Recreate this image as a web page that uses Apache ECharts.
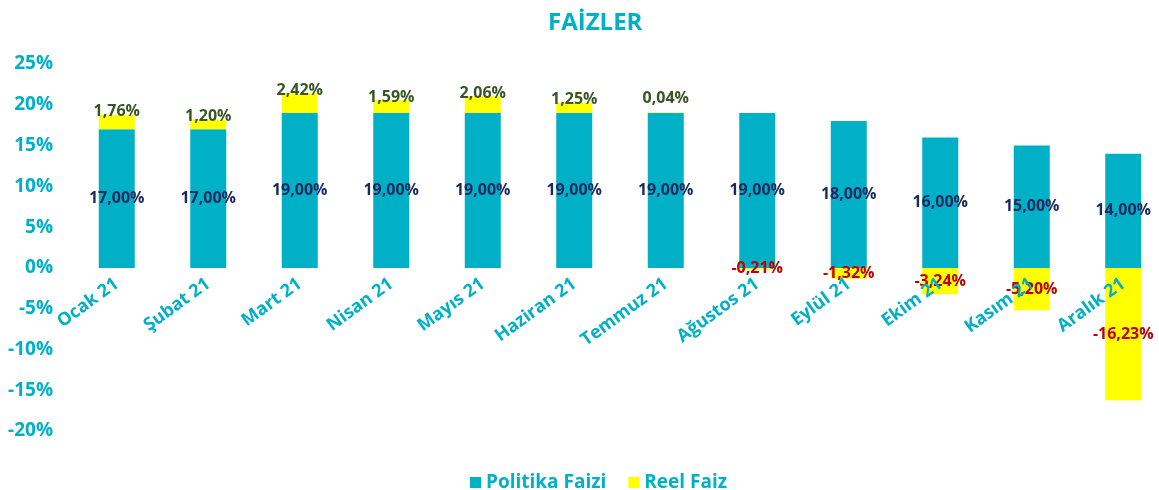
<!DOCTYPE html>
<html>
<head>
<meta charset="utf-8">
<script src="https://cdn.jsdelivr.net/npm/echarts@6/dist/echarts.min.js"></script>
<style>
  html, body { margin: 0; padding: 0; background: #fff; }
  #chart { width: 1159px; height: 490px; }
</style>
</head>
<body>
<div id="chart"></div>
<script>
const months = ['Ocak 21', 'Şubat 21', 'Mart 21', 'Nisan 21', 'Mayıs 21', 'Haziran 21',
  'Temmuz 21', 'Ağustos 21', 'Eylül 21', 'Ekim 21', 'Kasım 21', 'Aralık 21'];
const politikaFaizi = [17, 17, 19, 19, 19, 19, 19, 19, 18, 16, 15, 14];
const reelFaiz = [1.76, 1.20, 2.42, 1.59, 2.06, 1.25, 0.04, -0.21, -1.32, -3.24, -5.20, -16.23];
const yTicks = { min: -20, max: 25, step: 5 };

const teal = '#00B0C7';
const font = '"Open Sans", "DejaVu Sans", sans-serif';

function pct(v) {
  return v.toFixed(2).replace('.', ',') + '%';
}

// reel faiz etiketleri: pozitif üstte yeşil, negatif ortada kırmızı
const reelData = reelFaiz.map(function (v) {
  if (v >= 0) {
    return {
      value: v,
      label: { position: 'top', distance: v < 0.5 ? 6 : -5, color: '#375623' }
    };
  }
  return { value: v, label: { position: 'inside', color: '#C00000' } };
});

let myChart = echarts.init(document.getElementById('chart'));
myChart.setOption({
  title: {
    text: 'FAİZLER',
    left: 543,
    top: 6,
    textStyle: { color: teal, fontFamily: font, fontWeight: 'bold', fontSize: 24 }
  },
  legend: {
    top: 468,
    left: 465,
    icon: 'rect',
    itemWidth: 11,
    itemHeight: 11,
    itemGap: 22,
    textStyle: { color: teal, fontFamily: font, fontWeight: 'bold', fontSize: 19 },
    data: ['Politika Faizi', 'Reel Faiz']
  },
  grid: {
    left: 71,
    top: 64,
    bottom: 59,
    width: 1098,
    outerBoundsMode: 'none'
  },
  xAxis: {
    type: 'category',
    data: months,
    // eksen 0% çizgisine taşınıyor
    offset: -163,
    z: 3,
    axisLine: { show: false, onZero: false },
    axisTick: { show: false },
    axisLabel: {
      rotate: 36,
      margin: 14,
      color: teal,
      fontFamily: font,
      fontWeight: 'bold',
      fontSize: 18
    }
  },
  yAxis: {
    type: 'value',
    min: yTicks.min,
    max: yTicks.max,
    interval: yTicks.step,
    splitLine: { show: false },
    axisLine: { show: false },
    axisTick: { show: false },
    axisLabel: {
      formatter: '{value}%',
      margin: 18,
      color: teal,
      fontFamily: font,
      fontWeight: 'bold',
      fontSize: 19
    }
  },
  series: [
    {
      name: 'Politika Faizi',
      type: 'bar',
      stack: 'faiz',
      barWidth: 36,
      itemStyle: { color: teal },
      label: {
        show: true,
        position: 'inside',
        color: '#1B2A5E',
        fontFamily: font,
        fontWeight: 'bold',
        fontSize: 16,
        formatter: function (p) { return pct(p.value); }
      },
      data: politikaFaizi
    },
    {
      name: 'Reel Faiz',
      type: 'bar',
      stack: 'faiz',
      barWidth: 36,
      itemStyle: { color: '#FFFF00' },
      label: {
        show: true,
        fontFamily: font,
        fontWeight: 'bold',
        fontSize: 16,
        formatter: function (p) { return pct(p.value); }
      },
      data: reelData
    }
  ]
});
</script>
</body>
</html>
